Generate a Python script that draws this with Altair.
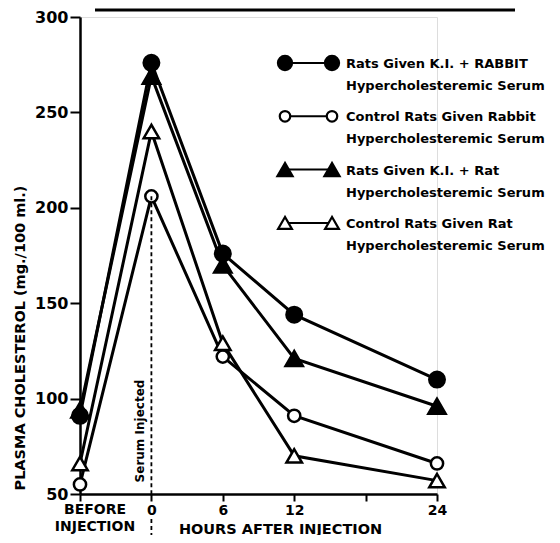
import altair as alt
import pandas as pd

# ---------------- data ----------------
hours = [-6, 0, 6, 12, 24]          # -6 stands for "BEFORE INJECTION"
series_names = ["KI Rabbit", "Control Rabbit", "KI Rat", "Control Rat"]
ki_rabbit = [91, 276, 176, 144, 110]
control_rabbit = [55, 206, 122, 91, 66]
ki_rat = [94, 269, 170, 121, 96]
control_rat = [66, 240, 129, 70, 57]
legend_labels = [
    ["Rats Given K.I. + RABBIT", "Hypercholesteremic Serum"],
    ["Control Rats Given Rabbit", "Hypercholesteremic Serum"],
    ["Rats Given K.I. + Rat", "Hypercholesteremic Serum"],
    ["Control Rats Given Rat", "Hypercholesteremic Serum"],
]
x_tick_values = [-6, 0, 6, 12, 18, 24]
y_tick_values = [50, 100, 150, 200, 250, 300]
before_label = ["BEFORE", "INJECTION"]
serum_label = "Serum Injected"

rows = []
for name, vals in zip(series_names, [ki_rabbit, control_rabbit, ki_rat, control_rat]):
    for h, v in zip(hours, vals):
        rows.append({"series": name, "hours": h, "chol": v})
df = pd.DataFrame(rows)

# ---------------- layout ----------------
W, H = 357, 477
FONT = "DejaVu Sans"
one = pd.DataFrame({"k": [0]})

xs = alt.Scale(domain=[-6, 24], nice=False, zero=False)
ys = alt.Scale(domain=[50, 300], nice=False, zero=False)

x_axis = alt.Axis(
    values=x_tick_values,
    labelExpr="(datum.value == -6 || datum.value == 18) ? '' : datum.label",
    title="HOURS AFTER INJECTION",
    titleX=200, titleY=39, titleAlign="center", titleBaseline="alphabetic",
    titleFont=FONT, titleFontSize=14.5, titleFontWeight="bold", titleColor="black",
    labelFont=FONT, labelFontSize=14, labelFontWeight="bold", labelColor="black",
    labelFlush=False, labelOverlap=False, labelPadding=2,
    tickSize=7, tickWidth=2, tickColor="black",
    domainWidth=2.5, domainColor="black", grid=False,
)
y_axis = alt.Axis(
    values=y_tick_values,
    title="PLASMA CHOLESTEROL (mg./100 ml.)",
    titleX=-60, titleY=473, titleAngle=270, titleAlign="left", titleBaseline="middle",
    titleFont=FONT, titleFontSize=14.5, titleFontWeight="bold", titleColor="black",
    labelFont=FONT, labelFontSize=16, labelFontWeight="bold", labelColor="black",
    labelPadding=2, labelFlush=False, labelOverlap=False,
    tickSize=10, tickWidth=2, tickColor="black",
    domainWidth=2.5, domainColor="black", grid=False,
)

base = alt.Chart(df)

lines = base.mark_line(color="black", strokeWidth=3).encode(
    x=alt.X("hours:Q", scale=xs, axis=x_axis),
    y=alt.Y("chol:Q", scale=ys, axis=y_axis),
    detail="series:N",
)

marker_styles = {
    "KI Rabbit": dict(shape="circle", fill="black", size=240),
    "Control Rabbit": dict(shape="circle", fill="white", size=150),
    "KI Rat": dict(shape="triangle-up", fill="black", size=300),
    "Control Rat": dict(shape="triangle-up", fill="white", size=240),
}

point_layers = []
for name in series_names:
    st = marker_styles[name]
    point_layers.append(
        base.transform_filter(alt.datum.series == name)
        .mark_point(filled=True, shape=st["shape"], fill=st["fill"], size=st["size"],
                    stroke="black", strokeWidth=2.5, opacity=1)
        .encode(x=alt.X("hours:Q", scale=xs), y=alt.Y("chol:Q", scale=ys))
    )

# dashed "serum injected" line at hour 0
dash1 = alt.Chart(one).mark_rule(color="black", strokeWidth=1.8, strokeDash=[4, 3]).encode(
    x=alt.datum(0), y=alt.datum(control_rabbit[1]), y2=alt.datum(50)
)
dash2 = alt.Chart(one).mark_rule(color="black", strokeWidth=1.8, strokeDash=[4, 3]).encode(
    x=alt.datum(0), y=alt.value(H + 25), y2=alt.value(H + 41)
)
serum_text = alt.Chart(one).mark_text(
    angle=270, font=FONT, fontSize=12, fontWeight="bold", color="black",
    align="center", baseline="middle"
).encode(x=alt.value(60), y=alt.value(414), text=alt.value(serum_label))

before_text = alt.Chart(one).mark_text(
    font=FONT, fontSize=14, fontWeight="bold", color="black",
    align="center", baseline="top", lineHeight=17
).encode(x=alt.value(15), y=alt.value(H + 9), text=alt.value(before_label))

top_rule = alt.Chart(one).mark_rule(color="black", strokeWidth=3).encode(
    x=alt.value(15), x2=alt.value(435), y=alt.value(-7)
)

# manual legend
legend_layers = []
legend_marker = {
    "KI Rabbit": dict(shape="circle", fill="black", size=200),
    "Control Rabbit": dict(shape="circle", fill="white", size=110),
    "KI Rat": dict(shape="triangle-up", fill="black", size=230),
    "Control Rat": dict(shape="triangle-up", fill="white", size=190),
}
for i, name in enumerate(series_names):
    yi = 46 + i * 53.3
    st = legend_marker[name]
    legend_layers.append(
        alt.Chart(one).mark_rule(color="black", strokeWidth=2).encode(
            x=alt.value(205), x2=alt.value(252), y=alt.value(yi))
    )
    for px in (205, 252):
        legend_layers.append(
            alt.Chart(one).mark_point(filled=True, shape=st["shape"], fill=st["fill"],
                                      size=st["size"], stroke="black", strokeWidth=2.2,
                                      opacity=1)
            .encode(x=alt.value(px), y=alt.value(yi))
        )
    legend_layers.append(
        alt.Chart(one).mark_text(font=FONT, fontSize=13, fontWeight="bold", color="black",
                                 align="left", baseline="alphabetic", lineHeight=22)
        .encode(x=alt.value(266), y=alt.value(yi + 5), text=alt.value(legend_labels[i]))
    )

chart = alt.layer(
    lines, *point_layers, dash1, dash2, serum_text, before_text, top_rule, *legend_layers
).properties(
    width=W, height=H,
    autosize=alt.AutoSizeParams(type="none"),
    padding={"left": 72, "top": 9, "right": 115, "bottom": 41},
).configure_view(stroke=None).configure(background="white")

chart.save("out.html", embed_options={"renderer": "svg", "actions": False})
